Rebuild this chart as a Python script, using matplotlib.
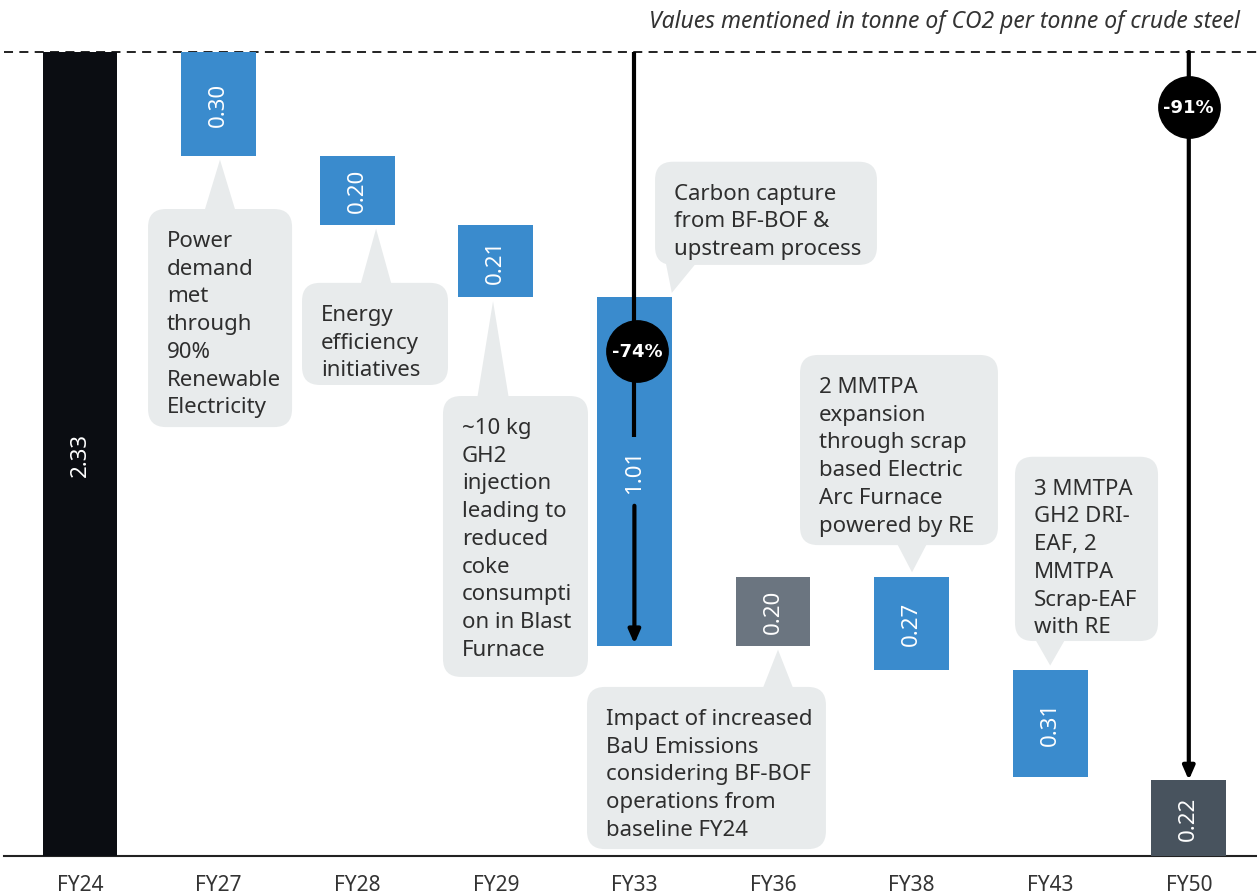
import matplotlib
matplotlib.use("Agg")
import matplotlib.pyplot as plt
from matplotlib.patches import FancyBboxPatch, Polygon

# ---------------- data ----------------
categories = ["FY24", "FY27", "FY28", "FY29", "FY33", "FY36", "FY38", "FY43", "FY50"]
changes = [2.33, -0.30, -0.20, -0.21, -1.01, 0.20, -0.27, -0.31, 0.22]
kinds = ["total", "step", "step", "step", "step", "step", "step", "step", "total"]
value_labels = ["2.33", "0.30", "0.20", "0.21", "1.01", "0.20", "0.27", "0.31", "0.22"]
reduction_labels = ["-74%", "-91%"]
subtitle = "Values mentioned in tonne of CO2 per tonne of crude steel"

notes = [
    "Power\ndemand\nmet\nthrough\n90%\nRenewable\nElectricity",
    "Energy\nefficiency\ninitiatives",
    "~10 kg\nGH2\ninjection\nleading to\nreduced\ncoke\nconsumpti\non in Blast\nFurnace",
    "Carbon capture\nfrom BF-BOF &\nupstream process",
    "Impact of increased\nBaU Emissions\nconsidering BF-BOF\noperations from\nbaseline FY24",
    "2 MMTPA\nexpansion\nthrough scrap\nbased Electric\nArc Furnace\npowered by RE",
    "3 MMTPA\nGH2 DRI-\nEAF, 2\nMMTPA\nScrap-EAF\nwith RE",
]

# ---------------- styles / layout ----------------
colors = ["#0b0d12", "#3a8bcd", "#3a8bcd", "#3a8bcd", "#3a8bcd",
          "#6b7580", "#3a8bcd", "#3a8bcd", "#48535e"]
BOX = "#e8ebec"
TXT = "#2e2e2e"
FONT = ["Noto Sans", "DejaVu Sans"]
plt.rcParams["font.family"] = FONT

# note layout: (bar index, left, top, right, bottom, pointer side, tip x, base centre x)
note_layout = [
    (1, 0.491, 1.875, 1.530, 1.243, "top", 1.01, 1.01),
    (2, 1.602, 1.661, 2.655, 1.365, "top", 2.136, 2.136),
    (3, 2.619, 1.333, 3.665, 0.519, "top", 2.98, 2.98),
    (4, 4.149, 2.012, 5.750, 1.713, "bottom", 4.27, 4.34),
    (5, 3.658, 0.490, 5.382, 0.020, "top", 5.036, 5.036),
    (6, 5.195, 1.452, 6.623, 0.901, "bottom", 6.003, 6.003),
    (7, 6.746, 1.157, 7.778, 0.623, "bottom", 7.0, 7.0),
]

W, H = 1257, 895
fig = plt.figure(figsize=(W / 100, H / 100), dpi=100)
PXX, PXY = 138.6, 345.0  # px per data unit
left_px, base_px = 4, 857
ax = fig.add_axes([left_px / W, (H - base_px) / H, 1 - left_px / W, base_px / H])
ax.set_xlim((left_px - 80) / PXX, (W - 80) / PXX)
ax.set_ylim(0, changes[0] + 53 / PXY)

# waterfall geometry
bottoms, heights = [], []
level = 0.0
for v, k in zip(changes, kinds):
    if k == "total":
        bottoms.append(0.0)
        heights.append(v)
        level = v
    else:
        new = level + v
        bottoms.append(min(level, new))
        heights.append(abs(v))
        level = new
tops = [b + h for b, h in zip(bottoms, heights)]
xs = list(range(len(categories)))

# dashed reference line at baseline value
ax.axhline(changes[0], color="#111111", lw=1.3, ls=(0, (5, 3.5)), zorder=1)

ax.bar(xs, heights, bottom=bottoms, width=0.54, color=colors, zorder=3)

for x, b, h, lab in zip(xs, bottoms, heights, value_labels):
    ax.text(x, b + h / 2, lab, rotation=90, ha="center", va="center",
            color="white", fontsize=16, zorder=6)

# arrows
i33 = categories.index("FY33")
i50 = categories.index("FY50")
ytxt = bottoms[i33] + heights[i33] / 2
ax.plot([i33, i33], [changes[0], ytxt + 0.10], color="black", lw=3, zorder=4,
        solid_capstyle="butt")
ax.annotate("", xy=(i33, bottoms[i33] + 0.005), xytext=(i33, ytxt - 0.10),
            arrowprops=dict(arrowstyle="-|>,head_length=0.8,head_width=0.35",
                            color="black", lw=3, shrinkA=0, shrinkB=0), zorder=4)
ax.annotate("", xy=(i50, tops[i50] + 0.0), xytext=(i50, changes[0]),
            arrowprops=dict(arrowstyle="-|>,head_length=0.8,head_width=0.35",
                            color="black", lw=3, shrinkA=0, shrinkB=0), zorder=4)

# percentage circles
circ_y = [1.464, 2.171]
for x, y, lab in zip([i33 + 0.02, i50], circ_y, reduction_labels):
    ax.scatter([x], [y], s=1950, color="black", zorder=7)
    ax.text(x, y, lab, ha="center", va="center", color="white",
            fontsize=13, fontweight="bold", family=["DejaVu Sans"], zorder=8)

# notes with pointers
for (bi, l, t, r, b, side, tipx, basex), txt in zip(note_layout, notes):
    box = FancyBboxPatch((l, b), r - l, t - b,
                         boxstyle="round,pad=0,rounding_size=0.13",
                         mutation_aspect=PXX / PXY,
                         fc=BOX, ec="none", zorder=2)
    ax.add_patch(box)
    hw = 16 / PXX
    if side == "top":
        tipy = bottoms[bi] - 0.012
        basey = t - 0.01
    else:
        tipy = tops[bi] + 0.012
        basey = b + 0.01
    ax.add_patch(Polygon([(basex - hw, basey), (basex + hw, basey), (tipx, tipy)],
                         closed=True, fc=BOX, ec="none", zorder=2))
    ax.text(l + 19 / PXX, t - 21 / PXY, txt, ha="left", va="top", color=TXT,
            fontsize=16, linespacing=1.42, zorder=5)

# axes styling
for s in ["top", "right", "left"]:
    ax.spines[s].set_visible(False)
ax.spines["bottom"].set_color("#222222")
ax.spines["bottom"].set_linewidth(1.5)
ax.set_yticks([])
ax.set_xticks(xs)
ax.set_xticklabels(categories, fontsize=15, color="#333333")
ax.tick_params(axis="x", length=0, pad=13)

fig.text(1240 / W, 1 - 22 / H, subtitle, ha="right", va="center",
         style="italic", fontsize=16.5, color="#333333")

fig.savefig("out.png", dpi=100)
